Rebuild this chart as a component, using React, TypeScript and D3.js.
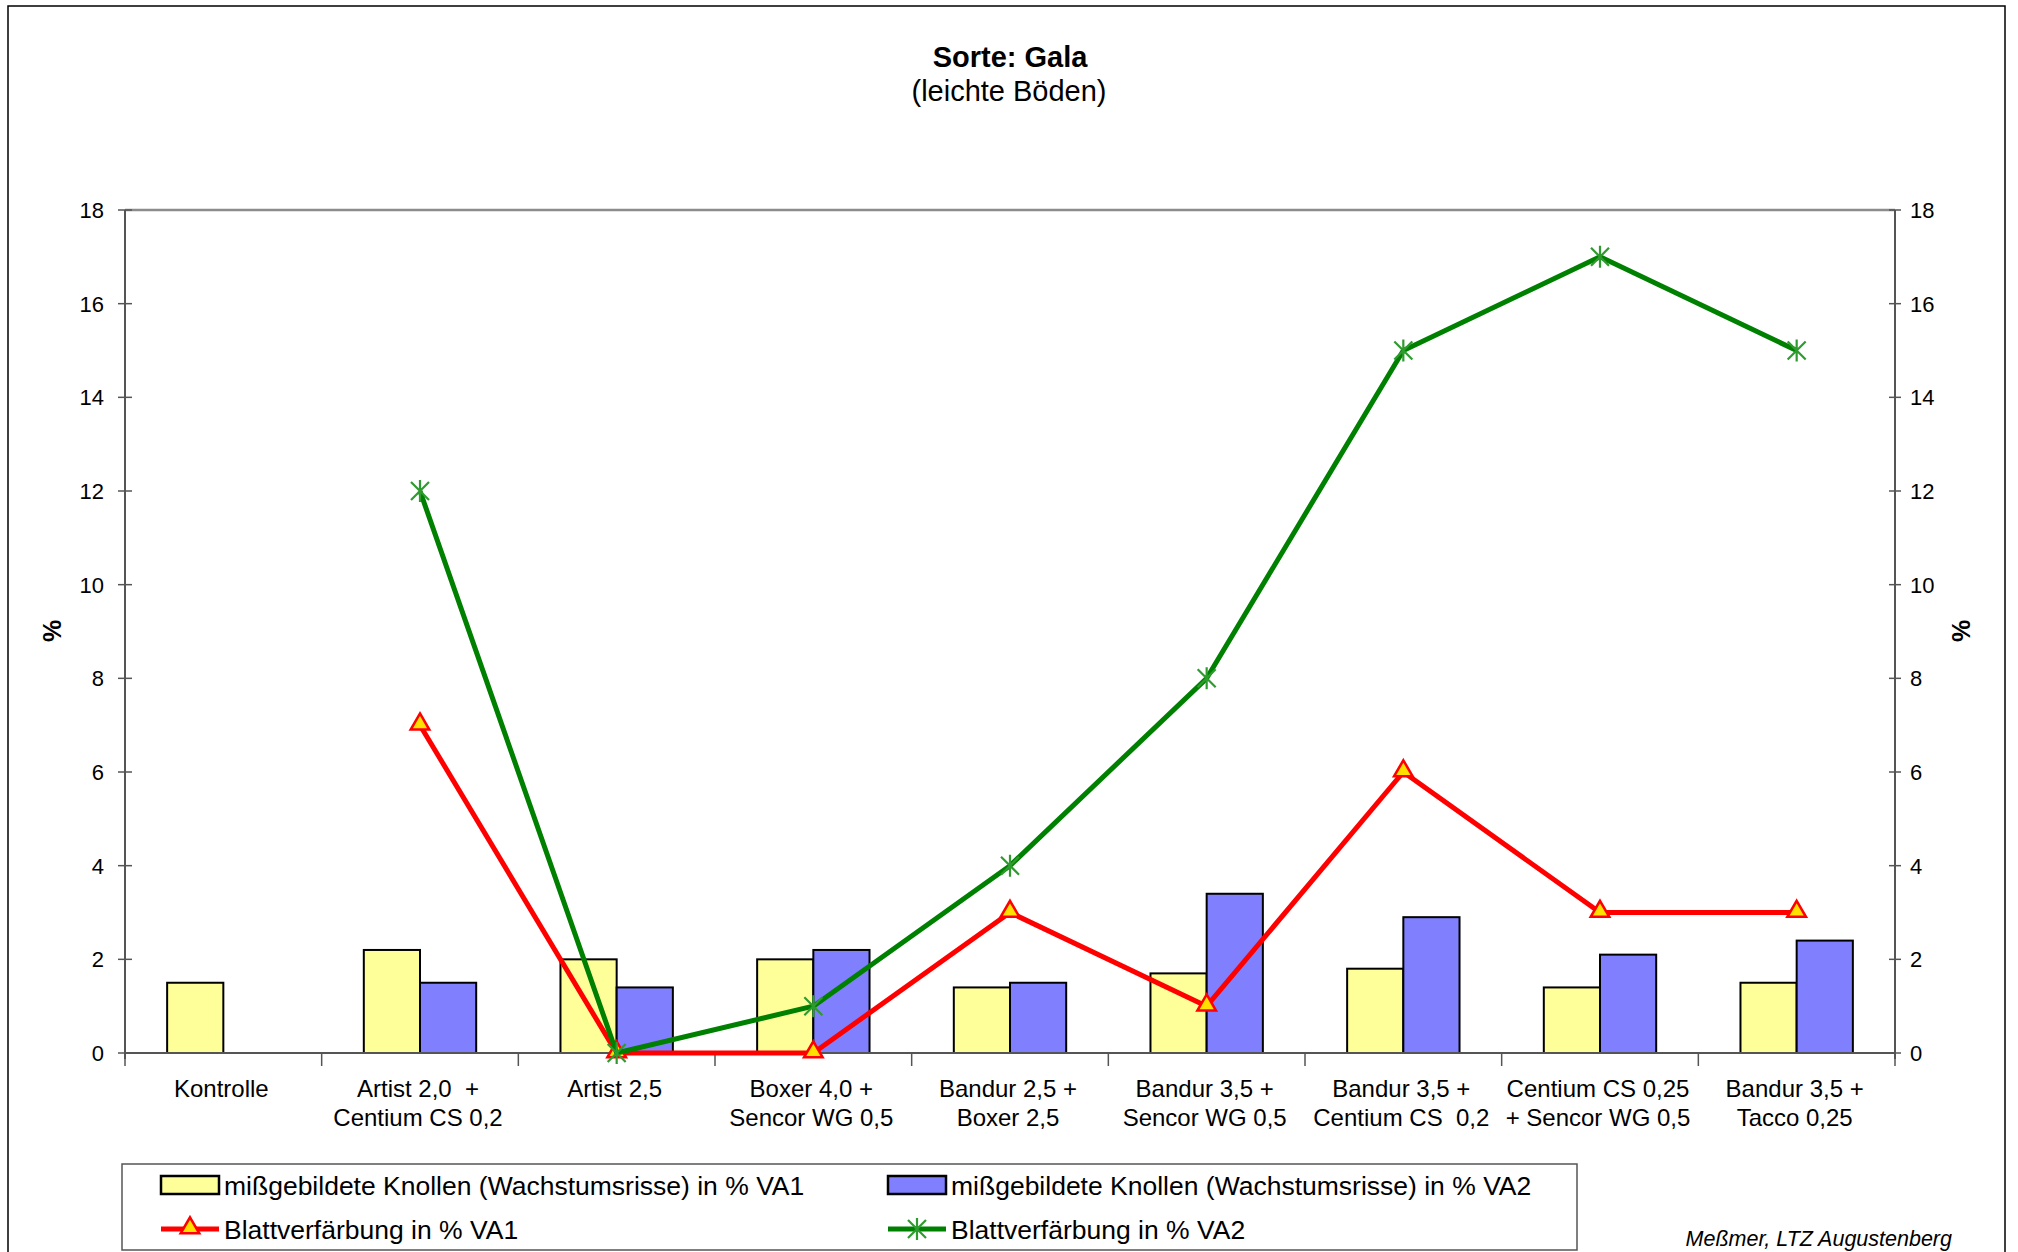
import React, { useEffect, useRef } from 'react';
import * as d3 from 'd3';

const categories = [
  'Kontrolle',
  'Artist 2,0  +\nCentium CS 0,2',
  'Artist 2,5',
  'Boxer 4,0 +\nSencor WG 0,5',
  'Bandur 2,5 +\nBoxer 2,5',
  'Bandur 3,5 +\nSencor WG 0,5',
  'Bandur 3,5 +\nCentium CS  0,2',
  'Centium CS 0,25\n+ Sencor WG 0,5',
  'Bandur 3,5 +\nTacco 0,25',
];
const knollenVA1: (number | null)[] = [1.5, 2.2, 2.0, 2.0, 1.4, 1.7, 1.8, 1.4, 1.5];
const knollenVA2: (number | null)[] = [null, 1.5, 1.4, 2.2, 1.5, 3.4, 2.9, 2.1, 2.4];
const blattVA1: (number | null)[] = [null, 7, 0, 0, 3, 1, 6, 3, 3];
const blattVA2: (number | null)[] = [null, 12, 0, 1, 4, 8, 15, 17, 15];
const yTicks = [0, 2, 4, 6, 8, 10, 12, 14, 16, 18];

const legendLabels = [
  'mißgebildete Knollen (Wachstumsrisse) in % VA1',
  'mißgebildete Knollen (Wachstumsrisse) in % VA2',
  'Blattverfärbung in % VA1',
  'Blattverfärbung in % VA2',
];

const FONT = "'Liberation Sans', Arial, Helvetica, sans-serif";
const YELLOW = '#FFFF99';
const BLUE = '#8080FF';
const RED = '#FF0000';
const GREEN = '#008000';
const GREEN_MARK = '#2E9B2E';

export default function App() {
  const svgRef = useRef<SVGSVGElement>(null);

  useEffect(() => {
    if (!svgRef.current) return;
    const W = 2018, H = 1252;
    const plot = { left: 125, right: 1895, top: 210, bottom: 1053 };

    const svg = d3.select(svgRef.current);
    svg.selectAll('*').remove();
    svg.attr('width', W).attr('height', H);

    svg.append('rect').attr('width', W).attr('height', H).attr('fill', '#fff');
    // outer chart frame
    svg.append('rect')
      .attr('x', 8).attr('y', 6).attr('width', 1997).attr('height', 1260)
      .attr('fill', 'none').attr('stroke', '#000').attr('stroke-width', 1.5);

    // title
    svg.append('text').attr('x', 1010).attr('y', 67).attr('text-anchor', 'middle')
      .style('font-family', FONT).style('font-size', '29px').style('font-weight', 'bold')
      .text('Sorte: Gala');
    svg.append('text').attr('x', 1009).attr('y', 101).attr('text-anchor', 'middle')
      .style('font-family', FONT).style('font-size', '29px')
      .text('(leichte Böden)');

    const x = d3.scaleBand<number>()
      .domain(d3.range(categories.length))
      .range([plot.left, plot.right])
      .paddingInner(0).paddingOuter(0);
    const y = d3.scaleLinear().domain([0, 18]).range([plot.bottom, plot.top]);

    const bw = x.bandwidth() / 3.5;
    const sub = d3.scaleBand<string>().domain(['VA1', 'VA2']).range([0, 2 * bw]);
    const cx = (i: number) => x(i)! + x.bandwidth() / 2;

    // plot top border
    svg.append('line')
      .attr('x1', plot.left).attr('x2', plot.right).attr('y1', plot.top).attr('y2', plot.top)
      .attr('stroke', '#8c8c8c').attr('stroke-width', 2.5);

    // bars
    const barSeries = [
      { key: 'VA1', values: knollenVA1, color: YELLOW },
      { key: 'VA2', values: knollenVA2, color: BLUE },
    ];
    barSeries.forEach(s => {
      svg.append('g').selectAll('rect')
        .data(s.values.map((v, i) => ({ v, i })).filter(d => d.v !== null))
        .enter().append('rect')
        .attr('x', d => cx(d.i) - bw + sub(s.key)!)
        .attr('y', d => y(d.v as number))
        .attr('width', bw)
        .attr('height', d => plot.bottom - y(d.v as number))
        .attr('fill', s.color)
        .attr('stroke', '#000').attr('stroke-width', 2);
    });

    // left axis
    const axL = svg.append('g');
    axL.append('line').attr('x1', plot.left).attr('x2', plot.left)
      .attr('y1', plot.top).attr('y2', plot.bottom + 6)
      .attr('stroke', '#555').attr('stroke-width', 2);
    yTicks.forEach(t => {
      axL.append('line').attr('x1', plot.left - 7).attr('x2', plot.left + 7)
        .attr('y1', y(t)).attr('y2', y(t)).attr('stroke', '#555').attr('stroke-width', 1.5);
      axL.append('text').attr('x', 104).attr('y', y(t)).attr('dy', '0.36em')
        .attr('text-anchor', 'end')
        .style('font-family', FONT).style('font-size', '22px').text(t);
    });

    // right axis
    const axR = svg.append('g');
    axR.append('line').attr('x1', plot.right).attr('x2', plot.right)
      .attr('y1', plot.top).attr('y2', plot.bottom + 6)
      .attr('stroke', '#555').attr('stroke-width', 2);
    yTicks.forEach(t => {
      axR.append('line').attr('x1', plot.right - 6).attr('x2', plot.right + 6)
        .attr('y1', y(t)).attr('y2', y(t)).attr('stroke', '#555').attr('stroke-width', 1.5);
      axR.append('text').attr('x', 1910).attr('y', y(t)).attr('dy', '0.36em')
        .attr('text-anchor', 'start')
        .style('font-family', FONT).style('font-size', '22px').text(t);
    });

    // axis titles
    svg.append('text').attr('transform', `translate(52,${631}) rotate(-90)`)
      .attr('text-anchor', 'middle').attr('dy', '0.35em')
      .style('font-family', FONT).style('font-size', '25px').style('font-weight', 'bold')
      .text('%');
    svg.append('text').attr('transform', `translate(1961,${631}) rotate(-90)`)
      .attr('text-anchor', 'middle').attr('dy', '0.35em')
      .style('font-family', FONT).style('font-size', '25px').style('font-weight', 'bold')
      .text('%');

    // category axis
    const axB = svg.append('g');
    axB.append('line').attr('x1', plot.left).attr('x2', plot.right)
      .attr('y1', plot.bottom).attr('y2', plot.bottom)
      .attr('stroke', '#555').attr('stroke-width', 2);
    d3.range(categories.length + 1).forEach(i => {
      const tx = plot.left + i * x.bandwidth();
      axB.append('line').attr('x1', tx).attr('x2', tx)
        .attr('y1', plot.bottom).attr('y2', plot.bottom + 13)
        .attr('stroke', '#555').attr('stroke-width', 1.5);
    });
    categories.forEach((c, i) => {
      const t = axB.append('text').attr('x', cx(i)).attr('text-anchor', 'middle')
        .style('font-family', FONT).style('font-size', '24px').style('white-space', 'pre');
      c.split('\n').forEach((ln, k) => {
        t.append('tspan').attr('x', cx(i) - 2).attr('y', 1097 + k * 29).text(ln);
      });
    });

    // lines
    const line = d3.line<{ v: number | null; i: number }>()
      .defined(d => d.v !== null)
      .x(d => cx(d.i))
      .y(d => y(d.v as number));

    const triangle = d3.symbol().type(d3.symbolTriangle).size(150);
    const drawTri = (g: d3.Selection<SVGGElement, unknown, null, undefined>, px: number, py: number) => {
      g.append('path').attr('d', triangle()!)
        .attr('transform', `translate(${px},${py - 1})`)
        .attr('fill', '#FFE000').attr('stroke', RED).attr('stroke-width', 2.5);
    };
    const drawStar = (g: d3.Selection<SVGGElement, unknown, null, undefined>, px: number, py: number) => {
      const r = 9;
      const d = `M${px - r},${py - r}L${px + r},${py + r}M${px - r},${py + r}L${px + r},${py - r}M${px},${py - r - 2}L${px},${py + r + 2}`;
      g.append('path').attr('d', d).attr('stroke', GREEN_MARK).attr('stroke-width', 2.2).attr('fill', 'none');
    };

    const gRed = svg.append('g');
    gRed.append('path').datum(blattVA1.map((v, i) => ({ v, i })))
      .attr('d', line).attr('fill', 'none').attr('stroke', RED).attr('stroke-width', 5)
      .attr('stroke-linejoin', 'round');
    const gGreen = svg.append('g');
    gGreen.append('path').datum(blattVA2.map((v, i) => ({ v, i })))
      .attr('d', line).attr('fill', 'none').attr('stroke', GREEN).attr('stroke-width', 5)
      .attr('stroke-linejoin', 'round');
    blattVA1.forEach((v, i) => { if (v !== null) drawTri(gRed, cx(i), y(v)); });
    blattVA2.forEach((v, i) => { if (v !== null) drawStar(gGreen, cx(i), y(v)); });

    // legend
    const lg = svg.append('g');
    lg.append('rect').attr('x', 122).attr('y', 1164).attr('width', 1455).attr('height', 86)
      .attr('fill', '#fff').attr('stroke', '#555').attr('stroke-width', 1.5);
    const rows = [1185, 1229];
    const cols = [161, 888];
    const swW = 58;
    // bar swatches
    [YELLOW, BLUE].forEach((c, k) => {
      lg.append('rect').attr('x', cols[k]).attr('y', rows[0] - 9).attr('width', swW).attr('height', 18)
        .attr('fill', c).attr('stroke', '#000').attr('stroke-width', 2.5);
    });
    // line swatches
    [RED, GREEN].forEach((c, k) => {
      lg.append('line').attr('x1', cols[k]).attr('x2', cols[k] + swW)
        .attr('y1', rows[1]).attr('y2', rows[1])
        .attr('stroke', c).attr('stroke-width', 5);
    });
    drawTri(lg, cols[0] + swW / 2, rows[1]);
    drawStar(lg, cols[1] + swW / 2, rows[1]);
    legendLabels.forEach((l, k) => {
      lg.append('text')
        .attr('x', cols[k % 2] + swW + 5).attr('y', rows[Math.floor(k / 2)]).attr('dy', '0.36em')
        .style('font-family', FONT).style('font-size', '26.5px')
        .text(l);
    });

    // source note
    svg.append('text').attr('x', 1952).attr('y', 1246).attr('text-anchor', 'end')
      .style('font-family', FONT).style('font-size', '21.5px').style('font-style', 'italic')
      .text('Meßmer, LTZ Augustenberg');
  }, []);

  return <svg ref={svgRef} style={{ position: 'absolute', left: 0, top: 0, display: 'block' }} />;
}
